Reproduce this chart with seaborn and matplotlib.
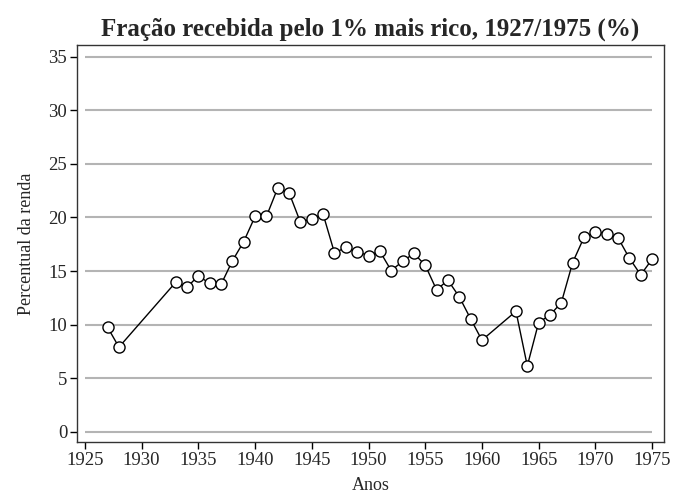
import numpy as np
import pandas as pd
import seaborn as sns
import matplotlib.pyplot as plt

anos = [1927, 1928, 1933, 1934, 1935, 1936, 1937, 1938, 1939, 1940,
        1941, 1942, 1943, 1944, 1945, 1946, 1947, 1948, 1949, 1950,
        1951, 1952, 1953, 1954, 1955, 1956, 1957, 1958, 1959, 1960,
        1963, 1964, 1965, 1966, 1967, 1968, 1969, 1970, 1971, 1972,
        1973, 1974, 1975]
percentual = [9.75, 7.9, 13.95, 13.5, 14.55, 13.85, 13.75, 15.95, 17.75, 20.1,
              20.1, 22.75, 22.3, 19.55, 19.9, 20.3, 16.7, 17.2, 16.8, 16.45,
              16.85, 15.05, 15.9, 16.65, 15.55, 13.25, 14.15, 12.6, 10.55, 8.55,
              11.25, 6.15, 10.2, 10.9, 12.05, 15.8, 18.15, 18.65, 18.5, 18.1,
              16.2, 14.65, 16.1]

y_ticks = list(range(0, 36, 5))
x_ticks = list(range(1925, 1976, 5))

df = pd.DataFrame({'Anos': anos, 'Percentual': percentual})

sns.set_style('white')
plt.rcParams['font.family'] = ['Liberation Serif', 'DejaVu Serif']

fig = plt.figure(figsize=(6.73, 4.97), dpi=100)
ax = fig.add_axes([0.1144, 0.1107, 0.8722, 0.7988])

# grid lines only across the data range, like the original
ax.hlines(y_ticks, 1925, 1975, color='#b4b4b4', linewidth=1.5, zorder=0)

sns.lineplot(data=df, x='Anos', y='Percentual', ax=ax, color='black',
             linewidth=1, marker='o', markersize=8, markerfacecolor='white',
             markeredgecolor='black', markeredgewidth=1)

ax.set_xlim(1924.3, 1976.05)
ax.set_ylim(-0.95, 36.1)
ax.set_xticks(x_ticks)
ax.set_yticks(y_ticks)
ax.tick_params(axis='both', direction='out', length=5, width=1, color='black',
               labelsize=13.5, bottom=True, left=True, pad=2)
for s in ax.spines.values():
    s.set_color('#333333')
    s.set_linewidth(1)

ax.set_xlabel('Anos', fontsize=13, labelpad=6)
ax.set_ylabel('Percentual da renda', fontsize=13, labelpad=10)
ax.set_title('Fração recebida pelo 1% mais rico, 1927/1975 (%)',
             fontsize=18, fontweight='bold', pad=7)

fig.savefig('out.png', dpi=100)
